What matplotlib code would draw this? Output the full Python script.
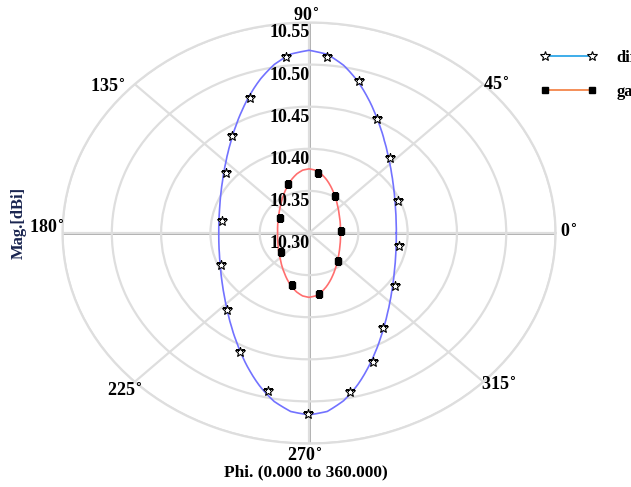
import numpy as np
import matplotlib.pyplot as plt
from matplotlib.lines import Line2D
from matplotlib.legend_handler import HandlerLine2D

plt.rcParams['font.family'] = ['Liberation Serif', 'DejaVu Serif']
plt.rcParams['font.weight'] = 'bold'

# curves, every 5 deg of phi
phi = list(range(0, 360, 5))
directivity = [10.3885, 10.3888, 10.3896, 10.3911, 10.3932, 10.3959, 10.3995, 10.4039, 10.4093,
               10.4159, 10.4238, 10.4333, 10.4446, 10.4576, 10.4723, 10.4878, 10.5022, 10.5130,
               10.5170, 10.5133, 10.5032, 10.4896, 10.4748, 10.4606, 10.4478, 10.4367, 10.4272,
               10.4192, 10.4126, 10.4071, 10.4027, 10.3991, 10.3962, 10.3941, 10.3927, 10.3918,
               10.3915, 10.3918, 10.3927, 10.3941, 10.3962, 10.3991, 10.4027, 10.4071, 10.4126,
               10.4192, 10.4272, 10.4367, 10.4478, 10.4606, 10.4748, 10.4896, 10.5032, 10.5128,
               10.5160, 10.5127, 10.5022, 10.4878, 10.4723, 10.4576, 10.4446, 10.4333, 10.4238,
               10.4159, 10.4093, 10.4039, 10.3995, 10.3959, 10.3932, 10.3911, 10.3896, 10.3888]
gain = [10.3320, 10.3321, 10.3324, 10.3329, 10.3337, 10.3347, 10.3359, 10.3375, 10.3394,
        10.3417, 10.3445, 10.3479, 10.3518, 10.3563, 10.3613, 10.3665, 10.3713, 10.3749,
        10.3762, 10.3749, 10.3713, 10.3665, 10.3613, 10.3563, 10.3518, 10.3479, 10.3445,
        10.3417, 10.3394, 10.3375, 10.3359, 10.3347, 10.3337, 10.3329, 10.3324, 10.3321,
        10.3320, 10.3321, 10.3324, 10.3329, 10.3337, 10.3347, 10.3359, 10.3375, 10.3394,
        10.3417, 10.3445, 10.3479, 10.3518, 10.3563, 10.3613, 10.3665, 10.3713, 10.3750,
        10.3764, 10.3750, 10.3713, 10.3665, 10.3613, 10.3563, 10.3518, 10.3479, 10.3445,
        10.3417, 10.3394, 10.3375, 10.3359, 10.3347, 10.3337, 10.3329, 10.3324, 10.3321]

# marker positions (phi in deg, value)
dir_mark_phi = [350.5, 22.9, 47.2, 62.9, 74.2, 85.1, 96.4, 110.5, 124.1, 139.9,
                171.1, 203.2, 227.6, 243.8, 257.6, 269.7, 282.5, 293.0, 303.6, 324.3]
dir_mark_val = [10.3929, 10.3976, 10.4209, 10.4521, 10.4876, 10.5102, 10.5107, 10.4711, 10.4396, 10.4101,
                10.3896, 10.3976, 10.4239, 10.4580, 10.4918, 10.5153, 10.4930, 10.4660, 10.4358, 10.4077]
gain_mark_phi = [82.9, 59.6, 5.3, 311.5, 278.3, 254.3, 218.6, 149.3, 109.9]
gain_mark_val = [10.3724, 10.3512, 10.3321, 10.3441, 10.3735, 10.3644, 10.3366, 10.3344, 10.3621]

r_ticks = [10.30, 10.35, 10.40, 10.45, 10.50, 10.55]
theta_ticks = [0, 45, 90, 135, 180, 225, 270, 315]
main_axes = [0, 90, 180, 270]
legend_labels = ['directivity', 'gain']

fig = plt.figure(figsize=(6.31, 4.87), dpi=100)
ax = fig.add_axes([0.0991, 0.0893, 0.7813, 0.8645], projection='polar')
ax.set_aspect('auto')

ax.set_ylim(r_ticks[0], r_ticks[-1])
ax.set_yticks(r_ticks[1:])
ax.set_yticklabels([])
ax.set_xticks(np.deg2rad(theta_ticks))
ax.set_xticklabels([])
ax.grid(True, color='#dedede', lw=1.6)
ax.spines['polar'].set_color('#dedede')
ax.spines['polar'].set_linewidth(1.6)

for t in main_axes:
    ax.plot(np.deg2rad([t, t]), [r_ticks[0], r_ticks[-1]], color='#a6a6a6', lw=2, zorder=1.5)

# close the loops at 360 deg
th = np.deg2rad(phi + [360])
l1, = ax.plot(th, directivity + [directivity[0]], color='#7272ff', lw=1.2, zorder=3)
l2, = ax.plot(th, gain + [gain[0]], color='#ff6e6e', lw=1.2, zorder=3)
# follow arcs between samples instead of straight chords
for ln in (l1, l2):
    ln.get_path()._interpolation_steps = 10
ax.plot(np.deg2rad(dir_mark_phi), dir_mark_val, ls='none', marker='*', ms=7.5,
        mfc='white', mec='black', mew=0.8, zorder=4)
ax.plot(np.deg2rad(gain_mark_phi), gain_mark_val, ls='none', marker='s', ms=4,
        mfc='black', mec='black', zorder=4)

# radial labels along the 90 deg line
for v in r_ticks:
    ax.annotate('%.2f' % v, xy=(np.pi / 2, v), xytext=(0.5, -7.5), textcoords='offset points',
                ha='right', va='center', fontsize=13, zorder=5, annotation_clip=False)

# angle labels: (ha, va, dx px, dy px)
lab_pos = {0: ('left', 'center', 4, 1), 45: ('left', 'center', 0, -1),
           90: ('center', 'bottom', -3, -3), 135: ('right', 'center', -10, -3),
           180: ('right', 'center', 2, 5), 225: ('right', 'top', 7, -1),
           270: ('center', 'top', -4, -4), 315: ('left', 'center', -2, -3)}
for t in theta_ticks:
    ha, va, dx, dy = lab_pos[t]
    ax.annotate(str(t) + r'$^{\circ}$', xy=(np.deg2rad(t), r_ticks[-1]),
                xytext=(dx * 0.72, dy * 0.72), textcoords='offset points',
                ha=ha, va=va, fontsize=13, annotation_clip=False)

fig.text(19 / 631, 1 - 223 / 487, 'Mag.[dBi]', rotation=90, ha='center', va='center',
         fontsize=12, color='#1a2550')
fig.text(306 / 631, 1 - 472 / 487, 'Phi. (0.000 to 360.000)', ha='center', va='center',
         fontsize=12.5)

handles = [Line2D([], [], color='#1e9fe6', lw=1.2, marker='*', ms=7.5, mfc='white', mec='black', mew=0.8),
           Line2D([], [], color='#f27b3c', lw=1.2, marker='s', ms=4, mfc='black', mec='black')]
fig.legend(handles, legend_labels, loc='upper left', bbox_to_anchor=(530 / 631, 1 - 50 / 487),
           frameon=False, handlelength=4.6, handletextpad=0.6, labelspacing=1.1, numpoints=2,
           borderpad=0, borderaxespad=0, prop={'weight': 'bold', 'size': 12},
           handler_map={Line2D: HandlerLine2D(marker_pad=0.9)})

fig.savefig('out.png', dpi=100)
